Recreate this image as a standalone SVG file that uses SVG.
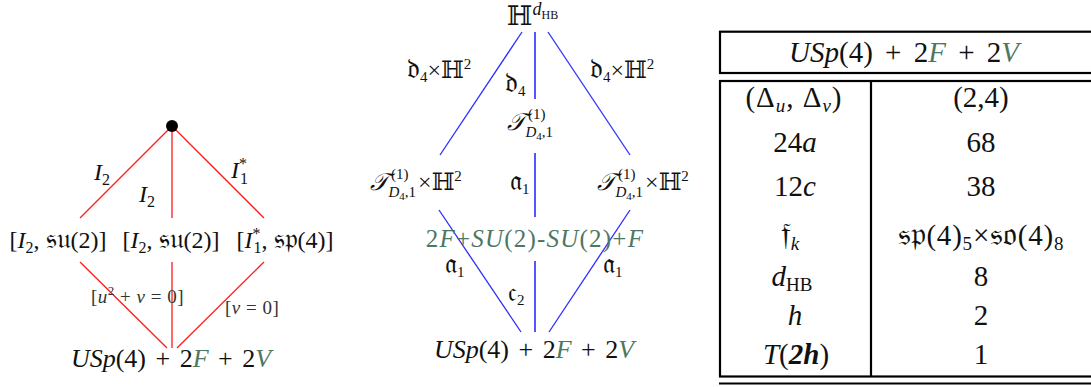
<svg xmlns="http://www.w3.org/2000/svg" width="1091" height="387" viewBox="0 0 1091 387">
<style>
text { font-family: "Liberation Serif", "DejaVu Serif", serif; fill: #111; }
.i { font-style: italic; }
.g { fill: #4d7763; }
.fk { font-size: 1.15em; }
.big { font-size: 26px; word-spacing: 3px; }
.tab { font-size: 29px; }
.med { font-size: 24px; }
.sm { font-size: 19px; fill: #333; }
.red { stroke: #ff1a1a; stroke-width: 1.3; fill: none; }
.blue { stroke: #2b2bff; stroke-width: 1.3; fill: none; }
.blueV { stroke: #5555ff; stroke-width: 2; fill: none; }
.tb { stroke: #000; stroke-width: 2.2; fill: none; }
</style>

<!-- Left diagram -->
<g id="connectors-left">
  <line class="red" x1="172" y1="126" x2="80" y2="218"/>
  <line class="red" x1="172" y1="126" x2="172" y2="218"/>
  <line class="red" x1="172" y1="126" x2="264" y2="218"/>
  <line class="red" x1="80" y1="262" x2="167" y2="348"/>
  <line class="red" x1="172" y1="262" x2="172" y2="348"/>
  <line class="red" x1="264" y1="262" x2="177" y2="348"/>
</g>
<g id="left-top"><circle cx="172" cy="126" r="6" fill="#000"/></g>
<g id="left-labels">
  <text class="med" x="94" y="180"><tspan class="i">I</tspan><tspan font-size="16" dy="5">2</tspan></text>
  <text class="med" x="139" y="202"><tspan class="i">I</tspan><tspan font-size="16" dy="5">2</tspan></text>
  <text class="med" x="231" y="178"><tspan class="i">I</tspan><tspan font-size="16" dy="-9">*</tspan><tspan font-size="16" dx="-7" dy="15">1</tspan></text>
</g>
<g id="left-n1"><text class="med" x="58" y="248" text-anchor="middle">[<tspan class="i">I</tspan><tspan font-size="16" dy="5">2</tspan><tspan dy="-5">, <tspan class="fk">𝔰𝔲</tspan>(2)]</tspan></text></g>
<g id="left-n2"><text class="med" x="171" y="248" text-anchor="middle">[<tspan class="i">I</tspan><tspan font-size="16" dy="5">2</tspan><tspan dy="-5">, <tspan class="fk">𝔰𝔲</tspan>(2)]</tspan></text></g>
<g id="left-n3"><text class="med" x="285" y="248" text-anchor="middle">[<tspan class="i">I</tspan><tspan font-size="16" dy="-9">*</tspan><tspan font-size="16" dx="-7" dy="14">1</tspan><tspan dy="-5">, <tspan class="fk">𝔰𝔭</tspan>(4)]</tspan></text></g>
<g id="left-edge-labels">
  <text class="sm" x="91" y="303" letter-spacing="0.5">[<tspan class="i">u</tspan><tspan font-size="13" dy="-8">2</tspan><tspan dy="8"> + </tspan><tspan class="i">v</tspan> = 0]</text>
  <text class="sm" x="225" y="314" letter-spacing="0.5">[<tspan class="i">v</tspan> = 0]</text>
</g>
<g id="left-bottom"><text class="big" x="171" y="367" text-anchor="middle"><tspan class="i">USp</tspan>(4) + 2<tspan class="i g">F</tspan> + 2<tspan class="i g">V</tspan></text></g>

<!-- Middle diagram -->
<g id="connectors-mid">
  <line class="blue" x1="522" y1="32" x2="440" y2="155"/>
  <line class="blueV" x1="535" y1="32" x2="535" y2="99"/>
  <line class="blue" x1="548" y1="32" x2="630" y2="155"/>
  <line class="blueV" x1="535" y1="153" x2="535" y2="217"/>
  <line class="blue" x1="439" y1="210" x2="521" y2="332"/>
  <line class="blue" x1="630" y1="210" x2="549" y2="332"/>
  <line class="blueV" x1="535" y1="261" x2="535" y2="332"/>
</g>
<g id="mid-top"><text class="med" x="507" y="25"><tspan font-size="27">ℍ</tspan><tspan class="i" font-size="18" dy="-10">d</tspan><tspan font-size="12" dy="4">HB</tspan></text></g>
<g id="mid-edge-labels">
  <text class="med" x="407" y="78"><tspan class="fk">𝔡</tspan><tspan font-size="15" dy="4">4</tspan><tspan dy="-4">×ℍ</tspan><tspan font-size="15" dy="-9">2</tspan></text>
  <text class="med" x="505" y="92"><tspan class="fk">𝔡</tspan><tspan font-size="15" dy="4">4</tspan></text>
  <text class="med" x="590" y="78"><tspan class="fk">𝔡</tspan><tspan font-size="15" dy="4">4</tspan><tspan dy="-4">×ℍ</tspan><tspan font-size="15" dy="-9">2</tspan></text>
  <text class="med" x="510" y="190"><tspan class="fk">𝔞</tspan><tspan font-size="15" dy="4">1</tspan></text>
  <text class="med" x="445" y="273"><tspan class="fk">𝔞</tspan><tspan font-size="15" dy="4">1</tspan></text>
  <text class="med" x="508" y="301"><tspan class="fk">𝔠</tspan><tspan font-size="15" dy="4">2</tspan></text>
  <text class="med" x="603" y="273"><tspan class="fk">𝔞</tspan><tspan font-size="15" dy="4">1</tspan></text>
</g>
<g id="mid-center"><text class="med" x="507" y="130"><tspan class="i">𝒯</tspan><tspan font-size="15" dx="3" dy="-11">(1)</tspan><tspan class="i" font-size="15" dx="-20" dy="18">D</tspan><tspan font-size="11" dy="3">4</tspan><tspan font-size="15" dy="-3">,1</tspan></text></g>
<g id="mid-left"><text class="med" x="370" y="190"><tspan class="i">𝒯</tspan><tspan font-size="15" dx="3" dy="-11">(1)</tspan><tspan class="i" font-size="15" dx="-20" dy="18">D</tspan><tspan font-size="11" dy="3">4</tspan><tspan font-size="15" dy="-3">,1</tspan><tspan dx="2" dy="-7">×ℍ</tspan><tspan font-size="15" dy="-9">2</tspan></text></g>
<g id="mid-right"><text class="med" x="597" y="190"><tspan class="i">𝒯</tspan><tspan font-size="15" dx="3" dy="-11">(1)</tspan><tspan class="i" font-size="15" dx="-20" dy="18">D</tspan><tspan font-size="11" dy="3">4</tspan><tspan font-size="15" dy="-3">,1</tspan><tspan dx="2" dy="-7">×ℍ</tspan><tspan font-size="15" dy="-9">2</tspan></text></g>
<g id="mid-quiver"><text class="g" font-size="25" letter-spacing="1.2" x="535" y="247" text-anchor="middle">2<tspan class="i">F</tspan>+<tspan class="i">SU</tspan>(2)-<tspan class="i">SU</tspan>(2)+<tspan class="i">F</tspan></text></g>
<g id="mid-bottom"><text class="big" x="534" y="358" text-anchor="middle"><tspan class="i">USp</tspan>(4) + 2<tspan class="i g">F</tspan> + 2<tspan class="i g">V</tspan></text></g>

<!-- Table -->
<g id="table">
  <rect class="tb" x="720" y="31.7" width="380" height="41.3"/>
  <rect class="tb" x="720" y="81" width="380" height="295.5"/>
  <line class="tb" x1="719" y1="383.5" x2="1091" y2="383.5"/>
  <line class="tb" x1="871" y1="81" x2="871" y2="376.5"/>
  <text class="tab" x="904" y="62" text-anchor="middle" word-spacing="5"><tspan class="i">USp</tspan>(4) + 2<tspan class="i g">F</tspan> + 2<tspan class="i g">V</tspan></text>
  <text class="tab" x="794" y="107" text-anchor="middle" letter-spacing="1">(Δ<tspan class="i" font-size="19" dy="5">u</tspan><tspan dy="-5">, Δ</tspan><tspan class="i" font-size="19" dy="5">v</tspan><tspan dy="-5">)</tspan></text>
  <text class="tab" x="981" y="107" text-anchor="middle">(2,4)</text>
  <text class="tab" x="795" y="152" text-anchor="middle">24<tspan class="i">a</tspan></text>
  <text class="tab" x="981" y="152" text-anchor="middle">68</text>
  <text class="tab" x="795" y="196" text-anchor="middle">12<tspan class="i">c</tspan></text>
  <text class="tab" x="981" y="196" text-anchor="middle">38</text>
  <text class="tab" x="790" y="245" text-anchor="middle"><tspan class="fk">𝔣</tspan><tspan class="i" font-size="19" dy="5">k</tspan></text>
  <text class="tab" x="981" y="245" text-anchor="middle" letter-spacing="0.8"><tspan class="fk">𝔰𝔭</tspan>(4)<tspan font-size="19" dy="5">5</tspan><tspan dy="-5">×<tspan class="fk">𝔰𝔬</tspan>(4)</tspan><tspan font-size="19" dy="5">8</tspan></text>
  <text class="tab" x="792" y="286" text-anchor="middle"><tspan class="i">d</tspan><tspan font-size="19" dy="5">HB</tspan></text>
  <text class="tab" x="981" y="286" text-anchor="middle">8</text>
  <text class="tab i" x="795" y="325" text-anchor="middle">h</text>
  <text class="tab" x="981" y="325" text-anchor="middle">2</text>
  <text class="tab" x="796" y="364" text-anchor="middle"><tspan class="i">T</tspan>(<tspan font-weight="bold" font-style="italic">2h</tspan>)</text>
  <text class="tab" x="981" y="364" text-anchor="middle">1</text>
</g>
</svg>
